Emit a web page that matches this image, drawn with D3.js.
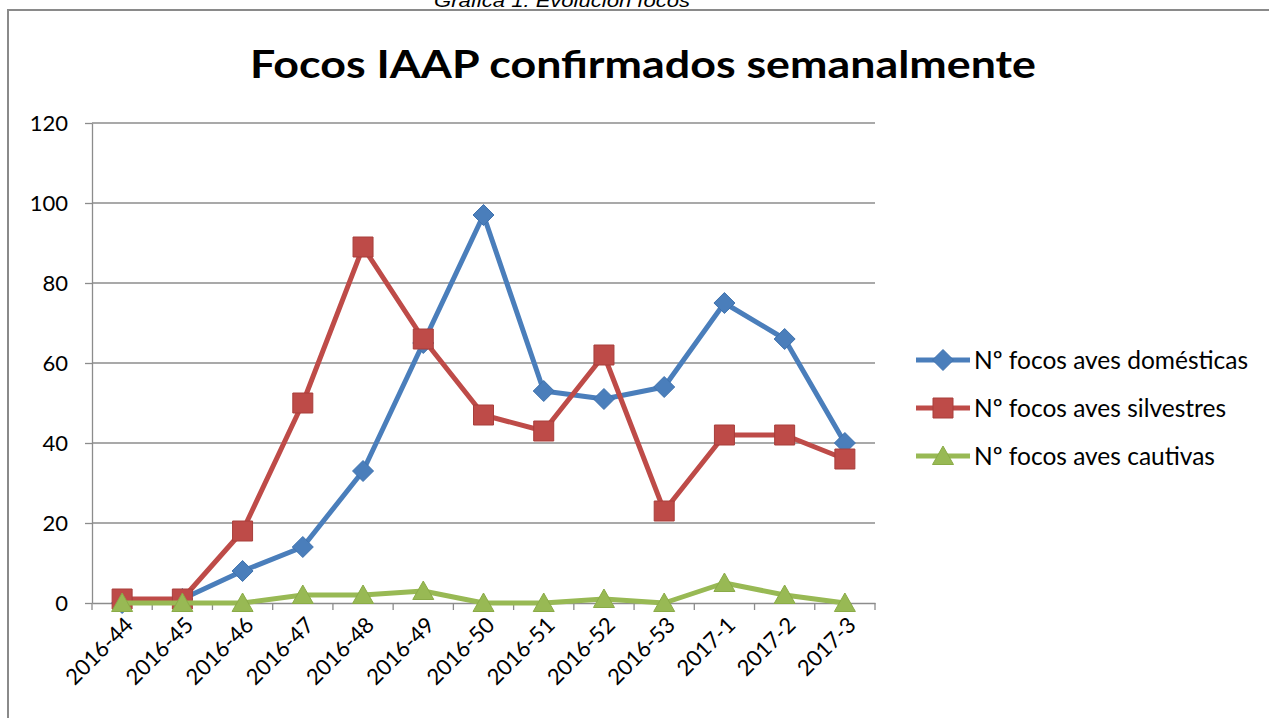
<!DOCTYPE html>
<html>
<head>
<meta charset="utf-8">
<script src="https://cdn.jsdelivr.net/npm/d3@7"></script>
<style>
  html, body { margin: 0; padding: 0; background: #fff; }
  svg { display: block; }
</style>
</head>
<body>
<svg id="chart" width="1269" height="718"></svg>
<script>
const categories = ["2016-44","2016-45","2016-46","2016-47","2016-48","2016-49","2016-50","2016-51","2016-52","2016-53","2017-1","2017-2","2017-3"];
const domesticas = [0, 1, 8, 14, 33, 65, 97, 53, 51, 54, 75, 66, 40];
const silvestres = [1, 1, 18, 50, 89, 66, 47, 43, 62, 23, 42, 42, 36];
const cautivas   = [0, 0, 0, 2, 2, 3, 0, 0, 1, 0, 5, 2, 0];
const seriesNames = ["Nº focos aves domésticas", "Nº focos aves silvestres", "Nº focos aves cautivas"];
const yTicks = [0, 20, 40, 60, 80, 100, 120];
const chartTitle = "Focos IAAP confirmados semanalmente";
const caption = "Gráfica 1. Evolución focos";

const svg = d3.select("#chart");
const FONT = "Lato, 'Open Sans', sans-serif";

// caption (partly above the page edge, as in the reference)
svg.append("text").attr("x", 434).attr("y", 7)
  .attr("font-family", "'Liberation Sans', Arial, sans-serif")
  .attr("font-style", "italic").attr("font-size", 18).attr("fill", "#000")
  .attr("textLength", 256).attr("lengthAdjust", "spacingAndGlyphs")
  .text(caption);

// frame
svg.append("path").attr("d", "M8,718 L8,10 L1275,10")
  .attr("fill", "none").attr("stroke", "#8a8a8a").attr("stroke-width", 2);

// title
svg.append("text").attr("x", 643).attr("y", 78).attr("text-anchor", "middle")
  .attr("font-family", FONT).attr("font-weight", "bold").attr("font-size", 38)
  .attr("textLength", 786).attr("lengthAdjust", "spacingAndGlyphs")
  .text(chartTitle);

const x = d3.scaleBand().domain(categories).range([92, 875]).padding(0);
const y = d3.scaleLinear().domain([0, 120]).range([603, 123]);
const cx = c => x(c) + x.bandwidth() / 2;

// gridlines
svg.append("g").selectAll("line").data(yTicks.filter(t => t > 0)).join("line")
  .attr("x1", 92).attr("x2", 875)
  .attr("y1", d => y(d)).attr("y2", d => y(d))
  .attr("stroke", "#8c8c8c").attr("stroke-width", 1.3);

// y axis
const yAxis = svg.append("g").attr("transform", "translate(92,0)")
  .call(d3.axisLeft(y).tickValues(yTicks).tickSize(7).tickPadding(17).tickSizeOuter(0));
yAxis.select(".domain").attr("stroke", "#8c8c8c").attr("stroke-width", 1.3);
yAxis.selectAll(".tick line").attr("stroke", "#8c8c8c").attr("stroke-width", 1.3);
yAxis.selectAll(".tick text").attr("font-family", FONT).attr("font-size", 22).attr("fill", "#000");

// x axis
const xAxis = svg.append("g").attr("transform", "translate(0,603)")
  .call(d3.axisBottom(x).tickSize(0).tickPadding(0).tickSizeOuter(0));
xAxis.select(".domain").attr("stroke", "#8c8c8c").attr("stroke-width", 1.3);
xAxis.selectAll(".tick text")
  .attr("font-family", FONT).attr("font-size", 22).attr("fill", "#000")
  .attr("text-anchor", "end").attr("dy", "0.35em")
  .attr("transform", "translate(7,18) rotate(-45)");
// x tick marks at band boundaries
const bounds = categories.map(c => x(c)).concat([x.range()[1]]);
svg.append("g").selectAll("line").data(bounds).join("line")
  .attr("x1", d => d).attr("x2", d => d).attr("y1", 603).attr("y2", 610)
  .attr("stroke", "#8c8c8c").attr("stroke-width", 1.3);

const series = [
  { name: seriesNames[0], values: domesticas, color: "#4a7ebb", stroke: "#3f72ae", shape: "diamond" },
  { name: seriesNames[1], values: silvestres, color: "#be4b48", stroke: "#a83e3b", shape: "square" },
  { name: seriesNames[2], values: cautivas, color: "#98b954", stroke: "#8aab47", shape: "triangle" }
];

const shapes = {
  diamond: "M0,-10.5 L10.5,0 L0,10.5 L-10.5,0 Z",
  square: "M-10,-10 L10,-10 L10,10 L-10,10 Z",
  triangle: "M0,-10 L10.5,8.5 L-10.5,8.5 Z"
};

const line = d3.line().x((d, i) => cx(categories[i])).y(d => y(d));

series.forEach(s => {
  const g = svg.append("g");
  g.append("path").datum(s.values).attr("d", line)
    .attr("fill", "none").attr("stroke", s.color).attr("stroke-width", 5)
    .attr("stroke-linejoin", "round");
  g.selectAll("path.m").data(s.values).join("path").attr("class", "m")
    .attr("d", shapes[s.shape])
    .attr("transform", (d, i) => `translate(${cx(categories[i])},${y(d)})`)
    .attr("fill", s.color).attr("stroke", s.stroke).attr("stroke-width", 1);
});

// legend
const legend = svg.append("g");
series.forEach((s, i) => {
  const ly = 360 + i * 48;
  legend.append("line").attr("x1", 916).attr("x2", 970).attr("y1", ly).attr("y2", ly)
    .attr("stroke", s.color).attr("stroke-width", 5);
  legend.append("path").attr("d", shapes[s.shape]).attr("transform", `translate(943,${ly})`)
    .attr("fill", s.color).attr("stroke", s.stroke).attr("stroke-width", 1);
  legend.append("text").attr("x", 974).attr("y", ly).attr("dy", "0.35em")
    .attr("font-family", FONT).attr("font-size", 24.5).attr("fill", "#000")
    .text(s.name);
});
</script>
</body>
</html>
